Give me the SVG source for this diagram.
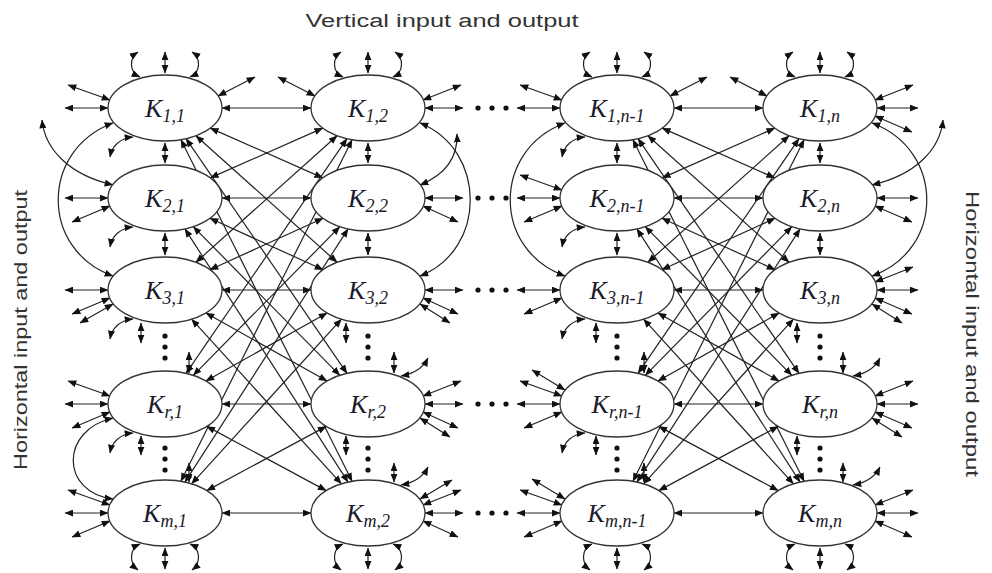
<svg xmlns="http://www.w3.org/2000/svg" width="992" height="573" viewBox="0 0 992 573">
<style>
  .bg { fill: #ffffff; }
  .node ellipse { fill: #ffffff; stroke: #333333; stroke-width: 1.3; }
  .node text { font-family: "Liberation Serif", "Times New Roman", serif; font-style: italic; fill: #1a1a2a; text-anchor: middle; font-size: 26px; }
  .node tspan { font-size: 18px; }
  .c { stroke: #222222; stroke-width: 1.2; fill: none; marker-start: url(#ah); marker-end: url(#ah); }
  .dot { fill: #111111; }
  .cap { font-family: "Liberation Sans", Arial, sans-serif; font-size: 18px; fill: #333333; }
</style>
<defs>
  <marker id="ah" viewBox="0 0 10 8" refX="9.5" refY="4" markerWidth="9" markerHeight="7" markerUnits="userSpaceOnUse" orient="auto-start-reverse">
    <path d="M0,0 L10,4 L0,8 z" fill="#111111"/>
  </marker>
</defs>
<rect class="bg" x="0" y="0" width="992" height="573"/>

<!-- captions -->
<text class="cap" x="442" y="27" text-anchor="middle" textLength="273" lengthAdjust="spacingAndGlyphs">Vertical input and output</text>
<text class="cap" transform="translate(27,330) rotate(-90)" text-anchor="middle" textLength="280" lengthAdjust="spacingAndGlyphs">Horizontal input and output</text>
<text class="cap" transform="translate(966,334) rotate(90)" text-anchor="middle" textLength="286" lengthAdjust="spacingAndGlyphs">Horizontal input and output</text>

<g id="connectors">
  <!-- vertical links, column by column -->
  <g id="vertical">
    <line class="c" x1="165" y1="143" x2="165" y2="163"/>
    <line class="c" x1="165" y1="233" x2="165" y2="255"/>
    <line class="c" x1="141" y1="323" x2="141" y2="343"/>
    <line class="c" x1="189" y1="352" x2="189" y2="373"/>
    <line class="c" x1="141" y1="436" x2="141" y2="455"/>
    <line class="c" x1="189" y1="463" x2="189" y2="482"/>

    <line class="c" x1="368" y1="143" x2="368" y2="163"/>
    <line class="c" x1="368" y1="233" x2="368" y2="255"/>
    <line class="c" x1="346" y1="323" x2="346" y2="343"/>
    <line class="c" x1="394" y1="352" x2="394" y2="373"/>
    <line class="c" x1="346" y1="436" x2="346" y2="455"/>
    <line class="c" x1="394" y1="463" x2="394" y2="482"/>

    <line class="c" x1="617" y1="143" x2="617" y2="163"/>
    <line class="c" x1="617" y1="233" x2="617" y2="255"/>
    <line class="c" x1="596" y1="323" x2="596" y2="343"/>
    <line class="c" x1="644" y1="352" x2="644" y2="373"/>
    <line class="c" x1="596" y1="436" x2="596" y2="455"/>
    <line class="c" x1="644" y1="463" x2="644" y2="482"/>

    <line class="c" x1="820" y1="143" x2="820" y2="163"/>
    <line class="c" x1="820" y1="233" x2="820" y2="255"/>
    <line class="c" x1="797" y1="323" x2="797" y2="343"/>
    <line class="c" x1="843" y1="352" x2="843" y2="373"/>
    <line class="c" x1="797" y1="436" x2="797" y2="455"/>
    <line class="c" x1="843" y1="463" x2="843" y2="482"/>
  </g>

  <!-- ellipsis dots -->
  <g id="dots">
    <circle class="dot" cx="165" cy="336" r="2.6"/><circle class="dot" cx="165" cy="347" r="2.6"/><circle class="dot" cx="165" cy="358" r="2.6"/>
    <circle class="dot" cx="165" cy="448" r="2.6"/><circle class="dot" cx="165" cy="459" r="2.6"/><circle class="dot" cx="165" cy="470" r="2.6"/>
    <circle class="dot" cx="368" cy="336" r="2.6"/><circle class="dot" cx="368" cy="347" r="2.6"/><circle class="dot" cx="368" cy="358" r="2.6"/>
    <circle class="dot" cx="368" cy="448" r="2.6"/><circle class="dot" cx="368" cy="459" r="2.6"/><circle class="dot" cx="368" cy="470" r="2.6"/>
    <circle class="dot" cx="617" cy="336" r="2.6"/><circle class="dot" cx="617" cy="347" r="2.6"/><circle class="dot" cx="617" cy="358" r="2.6"/>
    <circle class="dot" cx="617" cy="448" r="2.6"/><circle class="dot" cx="617" cy="459" r="2.6"/><circle class="dot" cx="617" cy="470" r="2.6"/>
    <circle class="dot" cx="820" cy="336" r="2.6"/><circle class="dot" cx="820" cy="347" r="2.6"/><circle class="dot" cx="820" cy="358" r="2.6"/>
    <circle class="dot" cx="820" cy="448" r="2.6"/><circle class="dot" cx="820" cy="459" r="2.6"/><circle class="dot" cx="820" cy="470" r="2.6"/>
    <!-- horizontal gaps between column 2 and column n-1 -->
    <circle class="dot" cx="478" cy="108" r="2.6"/><circle class="dot" cx="492" cy="108" r="2.6"/><circle class="dot" cx="506" cy="108" r="2.6"/>
    <circle class="dot" cx="478" cy="198" r="2.6"/><circle class="dot" cx="492" cy="198" r="2.6"/><circle class="dot" cx="506" cy="198" r="2.6"/>
    <circle class="dot" cx="478" cy="290" r="2.6"/><circle class="dot" cx="492" cy="290" r="2.6"/><circle class="dot" cx="506" cy="290" r="2.6"/>
    <circle class="dot" cx="478" cy="404" r="2.6"/><circle class="dot" cx="492" cy="404" r="2.6"/><circle class="dot" cx="506" cy="404" r="2.6"/>
    <circle class="dot" cx="478" cy="513" r="2.6"/><circle class="dot" cx="492" cy="513" r="2.6"/><circle class="dot" cx="506" cy="513" r="2.6"/>
  </g>

  <!-- vertical inputs/outputs on the first and last rows -->
  <g id="vertical-io">
    <line class="c" x1="165" y1="73" x2="165" y2="52"/>
    <path class="c" d="M140,77 C129,72 129,58 138,52"/>
    <path class="c" d="M190,77 C201,72 201,58 192,52"/>
    <line class="c" x1="368" y1="73" x2="368" y2="52"/>
    <path class="c" d="M343,77 C332,72 332,58 341,52"/>
    <path class="c" d="M393,77 C404,72 404,58 395,52"/>
    <line class="c" x1="617" y1="73" x2="617" y2="52"/>
    <path class="c" d="M592,77 C581,72 581,58 590,52"/>
    <path class="c" d="M642,77 C653,72 653,58 644,52"/>
    <line class="c" x1="820" y1="73" x2="820" y2="52"/>
    <path class="c" d="M795,77 C784,72 784,58 793,52"/>
    <path class="c" d="M845,77 C856,72 856,58 847,52"/>

    <line class="c" x1="165" y1="548" x2="165" y2="569"/>
    <path class="c" d="M140,544 C129,549 129,563 138,570"/>
    <path class="c" d="M190,544 C201,549 201,563 192,570"/>
    <line class="c" x1="368" y1="548" x2="368" y2="569"/>
    <path class="c" d="M343,544 C332,549 332,563 341,570"/>
    <path class="c" d="M393,544 C404,549 404,563 395,570"/>
    <line class="c" x1="617" y1="548" x2="617" y2="569"/>
    <path class="c" d="M592,544 C581,549 581,563 590,570"/>
    <path class="c" d="M642,544 C653,549 653,563 644,570"/>
    <line class="c" x1="820" y1="548" x2="820" y2="569"/>
    <path class="c" d="M795,544 C784,549 784,563 793,570"/>
    <path class="c" d="M845,544 C856,549 856,563 847,570"/>
  </g>

  <!-- column 1, left side -->
  <g id="fan-col1">
    <line class="c" x1="110" y1="100" x2="68" y2="85"/>
    <line class="c" x1="108" y1="108" x2="65" y2="108"/>
    <line class="c" x1="108" y1="198" x2="65" y2="198"/>
    <line class="c" x1="110" y1="206" x2="72" y2="222"/>
    <line class="c" x1="108" y1="290" x2="65" y2="290"/>
    <line class="c" x1="110" y1="298" x2="72" y2="314"/>
    <line class="c" x1="113" y1="304" x2="80" y2="323"/>
    <line class="c" x1="110" y1="396" x2="68" y2="381"/>
    <line class="c" x1="108" y1="404" x2="65" y2="404"/>
    <line class="c" x1="110" y1="412" x2="72" y2="428"/>
    <line class="c" x1="110" y1="505" x2="68" y2="490"/>
    <line class="c" x1="108" y1="513" x2="65" y2="513"/>
    <line class="c" x1="110" y1="521" x2="72" y2="537"/>
    <path class="c" d="M113,123 C40,150 40,250 113,276"/>
    <path class="c" d="M113,185 C70,175 45,150 42,120"/>
    <path class="c" d="M113,418 C60,430 60,492 113,499"/>
    <path class="c" d="M133,137 C120,138 112,146 110,157"/>
    <path class="c" d="M133,227 C120,228 112,236 110,247"/>
    <path class="c" d="M133,319 C120,320 112,328 110,339"/>
    <path class="c" d="M133,433 C120,434 112,442 110,453"/>
  </g>

  <!-- column 2, right side -->
  <g id="fan-col2">
    <line class="c" x1="423" y1="100" x2="461" y2="85"/>
    <line class="c" x1="425" y1="108" x2="463" y2="108"/>
    <line class="c" x1="425" y1="198" x2="463" y2="198"/>
    <line class="c" x1="423" y1="206" x2="458" y2="222"/>
    <line class="c" x1="425" y1="290" x2="463" y2="290"/>
    <line class="c" x1="423" y1="298" x2="458" y2="314"/>
    <line class="c" x1="420" y1="304" x2="450" y2="323"/>
    <line class="c" x1="423" y1="396" x2="461" y2="381"/>
    <line class="c" x1="425" y1="404" x2="463" y2="404"/>
    <line class="c" x1="423" y1="412" x2="458" y2="428"/>
    <line class="c" x1="420" y1="418" x2="450" y2="437"/>
    <line class="c" x1="423" y1="505" x2="461" y2="490"/>
    <line class="c" x1="420" y1="499" x2="452" y2="480"/>
    <line class="c" x1="425" y1="513" x2="463" y2="513"/>
    <line class="c" x1="423" y1="521" x2="458" y2="537"/>
    <path class="c" d="M420,123 C487,150 487,250 420,276"/>
    <path class="c" d="M420,185 C442,176 458,160 457,134"/>
    <path class="c" d="M401,376 C413,374 423,368 428,358"/>
    <path class="c" d="M401,485 C413,483 423,477 428,467"/>
  </g>

  <!-- column n-1, left side -->
  <g id="fan-col3">
    <line class="c" x1="562" y1="100" x2="520" y2="85"/>
    <line class="c" x1="560" y1="108" x2="517" y2="108"/>
    <line class="c" x1="562" y1="190" x2="520" y2="175"/>
    <line class="c" x1="560" y1="198" x2="517" y2="198"/>
    <line class="c" x1="562" y1="206" x2="524" y2="222"/>
    <line class="c" x1="560" y1="290" x2="517" y2="290"/>
    <line class="c" x1="562" y1="298" x2="524" y2="314"/>
    <line class="c" x1="562" y1="396" x2="520" y2="381"/>
    <line class="c" x1="565" y1="390" x2="532" y2="370"/>
    <line class="c" x1="560" y1="404" x2="517" y2="404"/>
    <line class="c" x1="562" y1="412" x2="524" y2="428"/>
    <line class="c" x1="562" y1="505" x2="520" y2="490"/>
    <line class="c" x1="565" y1="499" x2="532" y2="479"/>
    <line class="c" x1="560" y1="513" x2="517" y2="513"/>
    <line class="c" x1="562" y1="521" x2="524" y2="537"/>
    <path class="c" d="M565,123 C492,150 492,250 565,276"/>
    <path class="c" d="M585,137 C572,138 564,146 562,157"/>
    <path class="c" d="M585,227 C572,228 564,236 562,247"/>
    <path class="c" d="M585,319 C572,320 564,328 562,339"/>
    <path class="c" d="M585,433 C572,434 564,442 562,453"/>
  </g>

  <!-- column n, right side -->
  <g id="fan-col4">
    <line class="c" x1="875" y1="100" x2="913" y2="85"/>
    <line class="c" x1="877" y1="108" x2="918" y2="108"/>
    <line class="c" x1="875" y1="116" x2="912" y2="132"/>
    <line class="c" x1="877" y1="198" x2="918" y2="198"/>
    <line class="c" x1="875" y1="206" x2="912" y2="222"/>
    <line class="c" x1="875" y1="282" x2="913" y2="267"/>
    <line class="c" x1="877" y1="290" x2="918" y2="290"/>
    <line class="c" x1="875" y1="298" x2="912" y2="314"/>
    <line class="c" x1="872" y1="304" x2="902" y2="323"/>
    <line class="c" x1="875" y1="396" x2="913" y2="381"/>
    <line class="c" x1="877" y1="404" x2="918" y2="404"/>
    <line class="c" x1="875" y1="412" x2="912" y2="428"/>
    <line class="c" x1="872" y1="418" x2="902" y2="437"/>
    <line class="c" x1="875" y1="505" x2="913" y2="490"/>
    <line class="c" x1="877" y1="513" x2="918" y2="513"/>
    <line class="c" x1="875" y1="521" x2="912" y2="537"/>
    <path class="c" d="M872,123 C945,150 945,250 872,276"/>
    <path class="c" d="M872,185 C915,175 940,150 943,120"/>
    <path class="c" d="M853,376 C865,374 875,368 880,358"/>
    <path class="c" d="M853,485 C865,483 875,477 880,467"/>
  </g>

  <!-- short links above the first row -->
  <g id="top-diagonals">
    <line class="c" x1="218" y1="96" x2="255" y2="77"/>
    <line class="c" x1="315" y1="96" x2="278" y2="77"/>
    <line class="c" x1="670" y1="96" x2="707" y2="77"/>
    <line class="c" x1="767" y1="96" x2="730" y2="77"/>
  </g>

  <!-- full mesh between column 1 and column 2 -->
  <g id="mesh-1-2">
    <line class="c" x1="222" y1="108" x2="311" y2="108"/>
    <line class="c" x1="222" y1="198" x2="311" y2="198"/>
    <line class="c" x1="222" y1="290" x2="311" y2="290"/>
    <line class="c" x1="222" y1="404" x2="311" y2="404"/>
    <line class="c" x1="222" y1="513" x2="311" y2="513"/>
    <line class="c" x1="210.3" y1="128.1" x2="322.7" y2="177.9"/>
    <line class="c" x1="195.9" y1="135.7" x2="337.1" y2="262.3"/>
    <line class="c" x1="186.0" y1="138.7" x2="347.0" y2="373.3"/>
    <line class="c" x1="180.9" y1="139.7" x2="352.1" y2="481.3"/>
    <line class="c" x1="209.9" y1="218.3" x2="323.1" y2="269.7"/>
    <line class="c" x1="193.3" y1="226.7" x2="339.8" y2="375.3"/>
    <line class="c" x1="184.9" y1="228.9" x2="348.1" y2="482.1"/>
    <line class="c" x1="205.9" y1="313.0" x2="327.1" y2="381.0"/>
    <line class="c" x1="191.6" y1="319.2" x2="341.4" y2="483.8"/>
    <line class="c" x1="206.8" y1="426.4" x2="326.2" y2="490.6"/>
    <line class="c" x1="210.3" y1="177.9" x2="322.7" y2="128.1"/>
    <line class="c" x1="195.9" y1="262.3" x2="337.1" y2="135.7"/>
    <line class="c" x1="186.0" y1="373.3" x2="347.0" y2="138.7"/>
    <line class="c" x1="180.9" y1="481.3" x2="352.1" y2="139.7"/>
    <line class="c" x1="209.9" y1="269.7" x2="323.1" y2="218.3"/>
    <line class="c" x1="193.3" y1="375.3" x2="339.8" y2="226.7"/>
    <line class="c" x1="184.9" y1="482.1" x2="348.1" y2="228.9"/>
    <line class="c" x1="205.9" y1="381.0" x2="327.1" y2="313.0"/>
    <line class="c" x1="191.6" y1="483.8" x2="341.4" y2="319.2"/>
    <line class="c" x1="206.8" y1="490.6" x2="326.2" y2="426.4"/>
  </g>

  <!-- full mesh between column n-1 and column n -->
  <g id="mesh-n1-n">
    <line class="c" x1="674" y1="108" x2="763" y2="108"/>
    <line class="c" x1="674" y1="198" x2="763" y2="198"/>
    <line class="c" x1="674" y1="290" x2="763" y2="290"/>
    <line class="c" x1="674" y1="404" x2="763" y2="404"/>
    <line class="c" x1="674" y1="513" x2="763" y2="513"/>
    <line class="c" x1="662.3" y1="128.1" x2="774.7" y2="177.9"/>
    <line class="c" x1="647.9" y1="135.7" x2="789.1" y2="262.3"/>
    <line class="c" x1="638.0" y1="138.7" x2="799.0" y2="373.3"/>
    <line class="c" x1="632.9" y1="139.7" x2="804.1" y2="481.3"/>
    <line class="c" x1="661.9" y1="218.3" x2="775.1" y2="269.7"/>
    <line class="c" x1="645.3" y1="226.7" x2="791.8" y2="375.3"/>
    <line class="c" x1="636.9" y1="228.9" x2="800.1" y2="482.1"/>
    <line class="c" x1="657.9" y1="313.0" x2="779.1" y2="381.0"/>
    <line class="c" x1="643.6" y1="319.2" x2="793.4" y2="483.8"/>
    <line class="c" x1="658.8" y1="426.4" x2="778.2" y2="490.6"/>
    <line class="c" x1="662.3" y1="177.9" x2="774.7" y2="128.1"/>
    <line class="c" x1="647.9" y1="262.3" x2="789.1" y2="135.7"/>
    <line class="c" x1="638.0" y1="373.3" x2="799.0" y2="138.7"/>
    <line class="c" x1="632.9" y1="481.3" x2="804.1" y2="139.7"/>
    <line class="c" x1="661.9" y1="269.7" x2="775.1" y2="218.3"/>
    <line class="c" x1="645.3" y1="375.3" x2="791.8" y2="226.7"/>
    <line class="c" x1="636.9" y1="482.1" x2="800.1" y2="228.9"/>
    <line class="c" x1="657.9" y1="381.0" x2="779.1" y2="313.0"/>
    <line class="c" x1="643.6" y1="483.8" x2="793.4" y2="319.2"/>
    <line class="c" x1="658.8" y1="490.6" x2="778.2" y2="426.4"/>
  </g>
</g>

<!-- nodes -->
<g id="K_1_1" class="node"><ellipse cx="165" cy="108" rx="57" ry="33"/><text x="165" y="117">K<tspan dy="5">1,1</tspan></text></g>
<g id="K_2_1" class="node"><ellipse cx="165" cy="198" rx="57" ry="33"/><text x="165" y="207">K<tspan dy="5">2,1</tspan></text></g>
<g id="K_3_1" class="node"><ellipse cx="165" cy="290" rx="57" ry="33"/><text x="165" y="299">K<tspan dy="5">3,1</tspan></text></g>
<g id="K_r_1" class="node"><ellipse cx="165" cy="404" rx="57" ry="33"/><text x="165" y="413">K<tspan dy="5">r,1</tspan></text></g>
<g id="K_m_1" class="node"><ellipse cx="165" cy="513" rx="57" ry="33"/><text x="165" y="522">K<tspan dy="5">m,1</tspan></text></g>

<g id="K_1_2" class="node"><ellipse cx="368" cy="108" rx="57" ry="33"/><text x="368" y="117">K<tspan dy="5">1,2</tspan></text></g>
<g id="K_2_2" class="node"><ellipse cx="368" cy="198" rx="57" ry="33"/><text x="368" y="207">K<tspan dy="5">2,2</tspan></text></g>
<g id="K_3_2" class="node"><ellipse cx="368" cy="290" rx="57" ry="33"/><text x="368" y="299">K<tspan dy="5">3,2</tspan></text></g>
<g id="K_r_2" class="node"><ellipse cx="368" cy="404" rx="57" ry="33"/><text x="368" y="413">K<tspan dy="5">r,2</tspan></text></g>
<g id="K_m_2" class="node"><ellipse cx="368" cy="513" rx="57" ry="33"/><text x="368" y="522">K<tspan dy="5">m,2</tspan></text></g>

<g id="K_1_n-1" class="node"><ellipse cx="617" cy="108" rx="57" ry="33"/><text x="617" y="117">K<tspan dy="5">1,n-1</tspan></text></g>
<g id="K_2_n-1" class="node"><ellipse cx="617" cy="198" rx="57" ry="33"/><text x="617" y="207">K<tspan dy="5">2,n-1</tspan></text></g>
<g id="K_3_n-1" class="node"><ellipse cx="617" cy="290" rx="57" ry="33"/><text x="617" y="299">K<tspan dy="5">3,n-1</tspan></text></g>
<g id="K_r_n-1" class="node"><ellipse cx="617" cy="404" rx="57" ry="33"/><text x="617" y="413">K<tspan dy="5">r,n-1</tspan></text></g>
<g id="K_m_n-1" class="node"><ellipse cx="617" cy="513" rx="57" ry="33"/><text x="617" y="522">K<tspan dy="5">m,n-1</tspan></text></g>

<g id="K_1_n" class="node"><ellipse cx="820" cy="108" rx="57" ry="33"/><text x="820" y="117">K<tspan dy="5">1,n</tspan></text></g>
<g id="K_2_n" class="node"><ellipse cx="820" cy="198" rx="57" ry="33"/><text x="820" y="207">K<tspan dy="5">2,n</tspan></text></g>
<g id="K_3_n" class="node"><ellipse cx="820" cy="290" rx="57" ry="33"/><text x="820" y="299">K<tspan dy="5">3,n</tspan></text></g>
<g id="K_r_n" class="node"><ellipse cx="820" cy="404" rx="57" ry="33"/><text x="820" y="413">K<tspan dy="5">r,n</tspan></text></g>
<g id="K_m_n" class="node"><ellipse cx="820" cy="513" rx="57" ry="33"/><text x="820" y="522">K<tspan dy="5">m,n</tspan></text></g>
</svg>
